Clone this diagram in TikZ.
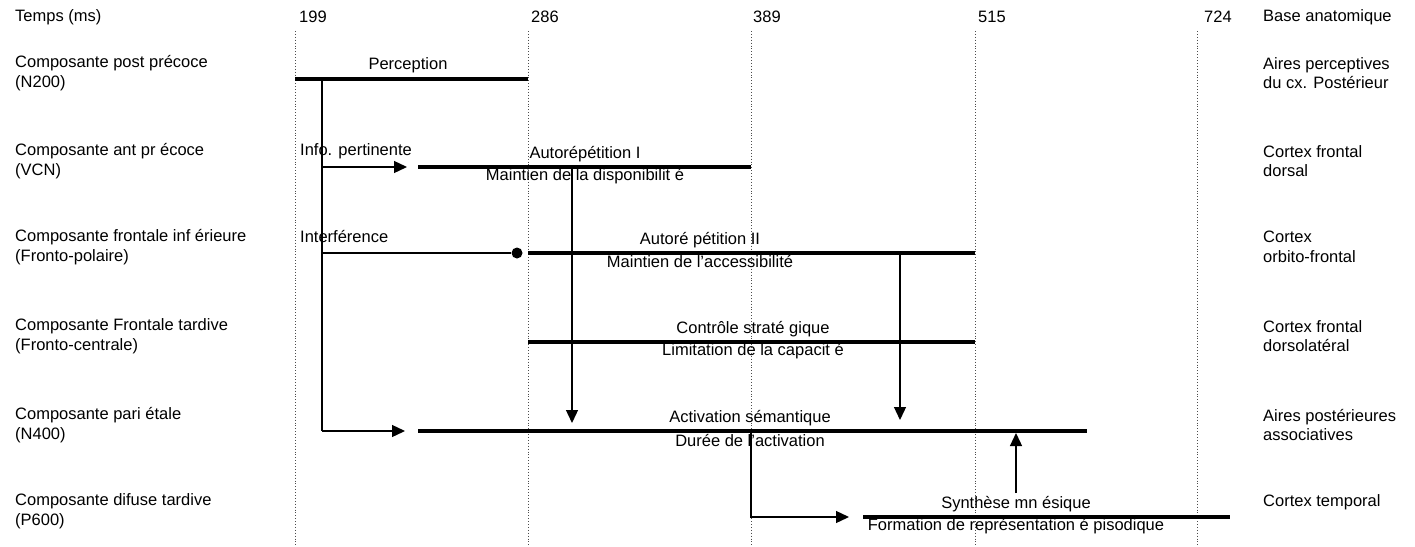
\documentclass[tikz,border=0pt]{standalone}
\usepackage{fontspec}
\setmainfont{Liberation Sans}
\usetikzlibrary{arrows.meta}

\begin{document}
\begin{tikzpicture}[x=1pt,y=-1pt]

	% styles
	\tikzset{
		thickbar/.style = {line width=3.6pt},
		link/.style = {line width=1.3pt},
		with tip/.style = {
			link,
			-{Triangle[length=13pt,width=12pt]}
		},
		vertex/.style = {
			circle, fill,
			minimum size = 11pt,
			inner sep=0pt
		},
		timeline/.style = {gray!60!black, line width=0.9pt, dotted},
		lbl/.style = {font=\fontsize{16.5}{19.5}\selectfont, inner sep=0pt},
		side/.style = {lbl, anchor=west, align=left}
	}

	\useasboundingbox (0,0) rectangle (1415,546);

	% parameters
	\def \xl {15}
	\def \xr {1263}
	\def \xj {322}

	% time axis
	\node[lbl, anchor=west] (temps) at (\xl,17) {Temps (ms)};
	\node[side] (base) at (\xr,17) {Base anatomique};
	\foreach \t/\x/\xt in {199/295/299, 286/528/531, 389/751/753, 515/975/978, 724/1197/1204} {
		\node[lbl, anchor=west] (t\t) at (\xt,17) {\t};
		\coordinate (top\t) at (\x,31);
		\coordinate (bot\t) at (\x,546);
		\draw[timeline] (top\t) -- (bot\t);
	}

	% components (left)
	\node[side] (comp1) at (\xl,73) {Composante post précoce\\(N200)};
	\node[side] (comp2) at (\xl,161) {Composante ant pr écoce\\(VCN)};
	\node[side] (comp3) at (\xl,247) {Composante frontale inf érieure\\(Fronto-polaire)};
	\node[side] (comp4) at (\xl,336) {Composante Frontale tardive\\(Fronto-centrale)};
	\node[side] (comp5) at (\xl,425) {Composante pari étale\\(N400)};
	\node[side] (comp6) at (\xl,511) {Composante difuse tardive\\(P600)};

	% anatomy (right)
	\node[side] (anat1) at (\xr,73) {Aires perceptives\\du cx. Postérieur};
	\node[side] (anat2) at (\xr,161) {Cortex frontal\\dorsal};
	\node[side] (anat3) at (\xr,247) {Cortex\\orbito-frontal};
	\node[side] (anat4) at (\xr,336) {Cortex frontal\\dorsolatéral};
	\node[side] (anat5) at (\xr,425) {Aires postérieures\\associatives};
	\node[side] (anat6) at (\xr,502) {Cortex temporal};

	% bars
	\coordinate (perc-a) at (295,79);
	\coordinate (perc-b) at (528,79);
	\coordinate (auto1-a) at (418,167);
	\coordinate (auto1-b) at (751,167);
	\coordinate (auto2-a) at (528,253);
	\coordinate (auto2-b) at (975,253);
	\coordinate (ctrl-a) at (528,342);
	\coordinate (ctrl-b) at (975,342);
	\coordinate (activ-a) at (418,431);
	\coordinate (activ-b) at (1087,431);
	\coordinate (synth-a) at (863,517);
	\coordinate (synth-b) at (1230,517);
	\foreach \b in {perc, auto1, auto2, ctrl, activ, synth}
		\draw[thickbar] (\b-a) -- (\b-b);

	% bar texts
	\node[lbl] (perc) at (408,65) {Perception};
	\node[lbl] (auto1) at (585,154) {Autorépétition I};
	\node[lbl] (auto1-sub) at (585,176) {Maintien de la disponibilit é};
	\node[lbl] (auto2) at (700,240) {Autoré pétition II};
	\node[lbl] (auto2-sub) at (700,262) {Maintien de l'accessibilité};
	\node[lbl] (ctrl) at (753,329) {Contrôle straté gique};
	\node[lbl] (ctrl-sub) at (753,351) {Limitation de la capacit é};
	\node[lbl] (activ) at (750,418) {Activation sémantique};
	\node[lbl] (activ-sub) at (750,440) {Durée de l'activation};
	\node[lbl] (synth) at (1016,504) {Synthèse mn ésique};
	\node[lbl] (synth-sub) at (1016,526) {Formation de représentation é pisodique};

	% side labels on the trunk
	\node[lbl, anchor=west] (info) at (300,151) {Info. pertinente};
	\node[lbl, anchor=west] (interf) at (300,237) {Interférence};

	% trunk and links
	\coordinate (j1) at (\xj,79);
	\coordinate (j2) at (\xj,167);
	\coordinate (j3) at (\xj,253);
	\coordinate (j5) at (\xj,431);
	\coordinate (tip2) at (407,167);
	\coordinate (tip5) at (405,431);
	\node[vertex] (stop) at (517,253) {};
	\draw[link] (j1) -- (j5);
	\draw[with tip] (j2) -- (tip2);
	\draw[link] (j3) -- (stop);
	\draw[with tip] (j5) -- (tip5);

	% down and up arrows
	\coordinate (d1-a) at (572,167);
	\coordinate (d1-b) at (572,423);
	\coordinate (d2-a) at (900,253);
	\coordinate (d2-b) at (900,420);
	\coordinate (u1-a) at (1016,493);
	\coordinate (u1-b) at (1016,433);
	\draw[with tip] (d1-a) -- (d1-b);
	\draw[with tip] (d2-a) -- (d2-b);
	\draw[with tip] (u1-a) -- (u1-b);

	% branch to P600
	\coordinate (k1) at (751,431);
	\coordinate (k2) at (849,517);
	\draw[with tip] (k1) |- (k2);

\end{tikzpicture}
\end{document}
